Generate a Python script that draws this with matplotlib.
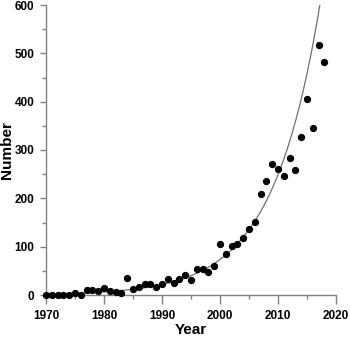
import numpy as np
import matplotlib.pyplot as plt
from matplotlib.ticker import MultipleLocator

years = list(range(1970, 2019))
counts = [1, 1, 1, 1, 1, 5, 1, 10, 11, 8,
          15, 9, 7, 5, 35, 12, 16, 22, 22, 17,
          23, 33, 25, 33, 42, 32, 54, 54, 48, 61,
          106, 84, 101, 105, 117, 136, 152, 209, 236, 271,
          260, 246, 284, 258, 326, 406, 346, 518, 483]

# exponential trend: y = a * exp(b * (year - 1970))
fit_a = 1.89
fit_b = 0.122
fit_start, fit_end = 1970, 2017.2

plt.rcParams['font.family'] = ['Liberation Sans', 'DejaVu Sans']
fig = plt.figure(figsize=(3.5, 3.37), dpi=100)
ax = fig.add_axes([46 / 350, 42 / 337, 290 / 350, 290 / 337])

xs = np.linspace(fit_start, fit_end, 300)
ax.plot(xs, fit_a * np.exp(fit_b * (xs - 1970)), color='#707070', lw=0.9, zorder=2)
ax.scatter(years, counts, s=18, color='black', zorder=3, clip_on=False)

ax.set_xlim(1970, 2020)
ax.set_ylim(0, 600)
ax.xaxis.set_major_locator(MultipleLocator(10))
ax.xaxis.set_minor_locator(MultipleLocator(5))
ax.yaxis.set_major_locator(MultipleLocator(100))
ax.yaxis.set_minor_locator(MultipleLocator(50))

for side in ['top', 'right']:
    ax.spines[side].set_visible(False)
for side in ['left', 'bottom']:
    ax.spines[side].set_color('#808080')
    ax.spines[side].set_linewidth(1.0)

ax.tick_params(which='both', direction='out', color='#808080', width=1.0, labelsize=8.5)
ax.tick_params(axis='x', which='major', length=6.5, pad=4)
ax.tick_params(axis='x', which='minor', length=3.2)
ax.tick_params(axis='y', which='major', length=4.3, pad=4)
ax.tick_params(axis='y', which='minor', length=3.2)
for lab in ax.get_xticklabels() + ax.get_yticklabels():
    lab.set_fontweight('bold')

ax.set_xlabel('Year', fontsize=11, fontweight='bold', labelpad=1)
ax.set_ylabel('Number', fontsize=11, fontweight='bold', labelpad=0.3)

fig.savefig('out.png', dpi=100)
